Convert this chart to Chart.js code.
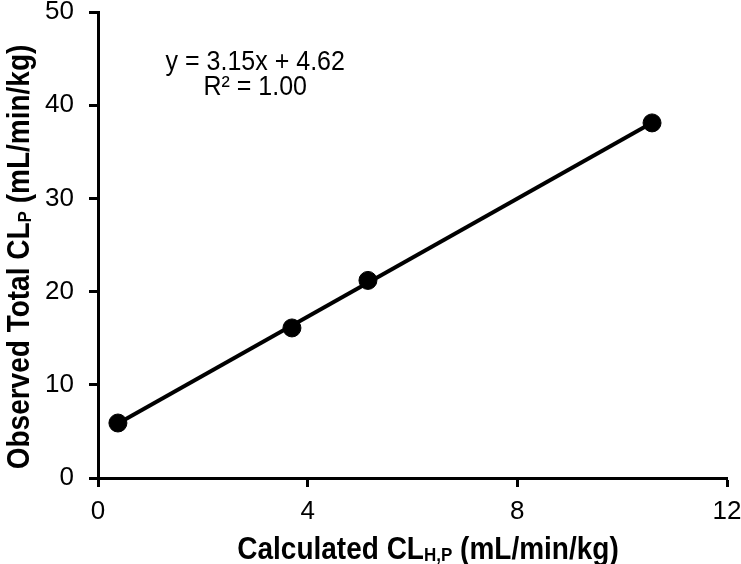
<!DOCTYPE html>
<html>
<head>
<meta charset="utf-8">
<script src="https://cdn.jsdelivr.net/npm/chart.js@4.4.1/dist/chart.umd.min.js"></script>
<style>
  html, body { margin: 0; padding: 0; background: #fff; }
  #wrap { width: 741px; height: 564px; position: relative; }
</style>
</head>
<body>
<div id="wrap"><canvas id="clChart" width="741" height="564"></canvas></div>
<script>
// values
const calculatedCL = [0.38, 3.70, 5.15, 10.57];   // CL H,P (mL/min/kg)
const observedCL = [5.9, 16.1, 21.2, 38.1];        // total CL P (mL/min/kg)
const xTicks = [0, 4, 8, 12];
const yTicks = [0, 10, 20, 30, 40, 50];
const equationLines = ['y = 3.15x + 4.62', 'R\u00b2 = 1.00'];

const FONT = '"Liberation Sans", Arial, Helvetica, sans-serif';

// least squares line through the points (same as the excel trendline)
function fitLine(xs, ys) {
  const n = xs.length;
  const mx = xs.reduce((a, b) => a + b, 0) / n;
  const my = ys.reduce((a, b) => a + b, 0) / n;
  let sxy = 0, sxx = 0;
  for (let i = 0; i < n; i++) {
    sxy += (xs[i] - mx) * (ys[i] - my);
    sxx += (xs[i] - mx) * (xs[i] - mx);
  }
  const slope = sxy / sxx;
  return { slope: slope, intercept: my - slope * mx };
}

const fit = fitLine(calculatedCL, observedCL);
const xMin = Math.min(...calculatedCL);
const xMax = Math.max(...calculatedCL);
const trendPoints = [
  { x: xMin, y: fit.slope * xMin + fit.intercept },
  { x: xMax, y: fit.slope * xMax + fit.intercept }
];

// draw text pieces in a row, some of them as subscripts
// the text in the original is a bit taller than normal, so stretch it
function drawParts(ctx, parts, size, cx, baseline, stretch) {
  const subSize = Math.round(size * 0.62);
  let total = 0;
  parts.forEach(p => {
    ctx.font = 'bold ' + (p.sub ? subSize : size) + 'px ' + FONT;
    p.w = ctx.measureText(p.text).width;
    total += p.w;
  });
  ctx.save();
  ctx.translate(cx, baseline);
  ctx.scale(1, stretch);
  let x = -total / 2;
  ctx.textAlign = 'left';
  ctx.textBaseline = 'alphabetic';
  parts.forEach(p => {
    ctx.font = 'bold ' + (p.sub ? subSize : size) + 'px ' + FONT;
    ctx.fillText(p.text, x, p.sub ? 2 : 0);
    x += p.w;
  });
  ctx.restore();
}

const textPlugin = {
  id: 'textPlugin',
  afterDraw(chart) {
    const ctx = chart.ctx;
    const xs = chart.scales.x, ys = chart.scales.y;
    ctx.save();
    ctx.fillStyle = '#000';

    // x axis title
    drawParts(ctx, [
      { text: 'Calculated CL' },
      { text: 'H,P', sub: true },
      { text: ' (mL/min/kg)' }
    ], 28, 428, 559, 1.1);

    // y axis title
    ctx.save();
    ctx.translate(29, 257);
    ctx.rotate(-Math.PI / 2);
    drawParts(ctx, [
      { text: 'Observed Total CL' },
      { text: 'P', sub: true },
      { text: ' (mL/min/kg)' }
    ], 28, 0, 0, 1.1);
    ctx.restore();

    // trendline equation
    ctx.font = '25px ' + FONT;
    ctx.textAlign = 'center';
    ctx.textBaseline = 'middle';
    const ex = xs.getPixelForValue(3.0);
    [[equationLines[0], 44.6], [equationLines[1], 41.9]].forEach(([t, v]) => {
      ctx.save();
      ctx.translate(ex, ys.getPixelForValue(v));
      ctx.scale(1, 1.12);
      ctx.fillText(t, 0, 0);
      ctx.restore();
    });
    ctx.restore();
  }
};

const ctx = document.getElementById('clChart').getContext('2d');
new Chart(ctx, {
  type: 'scatter',
  data: {
    datasets: [
      {
        label: 'Trendline',
        data: trendPoints,
        showLine: true,
        borderColor: '#000',
        borderWidth: 4,
        pointRadius: 0,
        order: 2
      },
      {
        label: 'Observed vs calculated',
        data: calculatedCL.map((x, i) => ({ x: x, y: observedCL[i] })),
        backgroundColor: '#000',
        borderColor: '#000',
        pointRadius: 9,
        order: 1
      }
    ]
  },
  options: {
    responsive: false,
    animation: false,
    layout: { padding: { left: 8, top: 12, right: 14, bottom: 0 } },
    plugins: {
      legend: { display: false },
      tooltip: { enabled: false }
    },
    scales: {
      x: {
        type: 'linear',
        min: 0,
        max: 12,
        afterBuildTicks: (scale) => { scale.ticks = xTicks.map(v => ({ value: v })); },
        afterFit: (scale) => {
          scale.height = 86;
          scale.paddingLeft = 0;
          scale.paddingRight = 0;
        },
        ticks: {
          color: '#000',
          font: { family: FONT, size: 26 },
          padding: 9
        },
        grid: {
          drawOnChartArea: false,
          drawTicks: true,
          tickLength: 9,
          tickColor: '#000',
          tickWidth: 3
        },
        border: { color: '#000', width: 3 }
      },
      y: {
        type: 'linear',
        min: 0,
        max: 50,
        afterBuildTicks: (scale) => { scale.ticks = yTicks.map(v => ({ value: v })); },
        afterFit: (scale) => {
          scale.width = 90;
          scale.paddingTop = 0;
          scale.paddingBottom = 0;
        },
        ticks: {
          color: '#000',
          font: { family: FONT, size: 26 },
          padding: 15
        },
        grid: {
          drawOnChartArea: false,
          drawTicks: true,
          tickLength: 9,
          tickColor: '#000',
          tickWidth: 3
        },
        border: { color: '#000', width: 3 }
      }
    }
  },
  plugins: [textPlugin]
});
</script>
</body>
</html>
